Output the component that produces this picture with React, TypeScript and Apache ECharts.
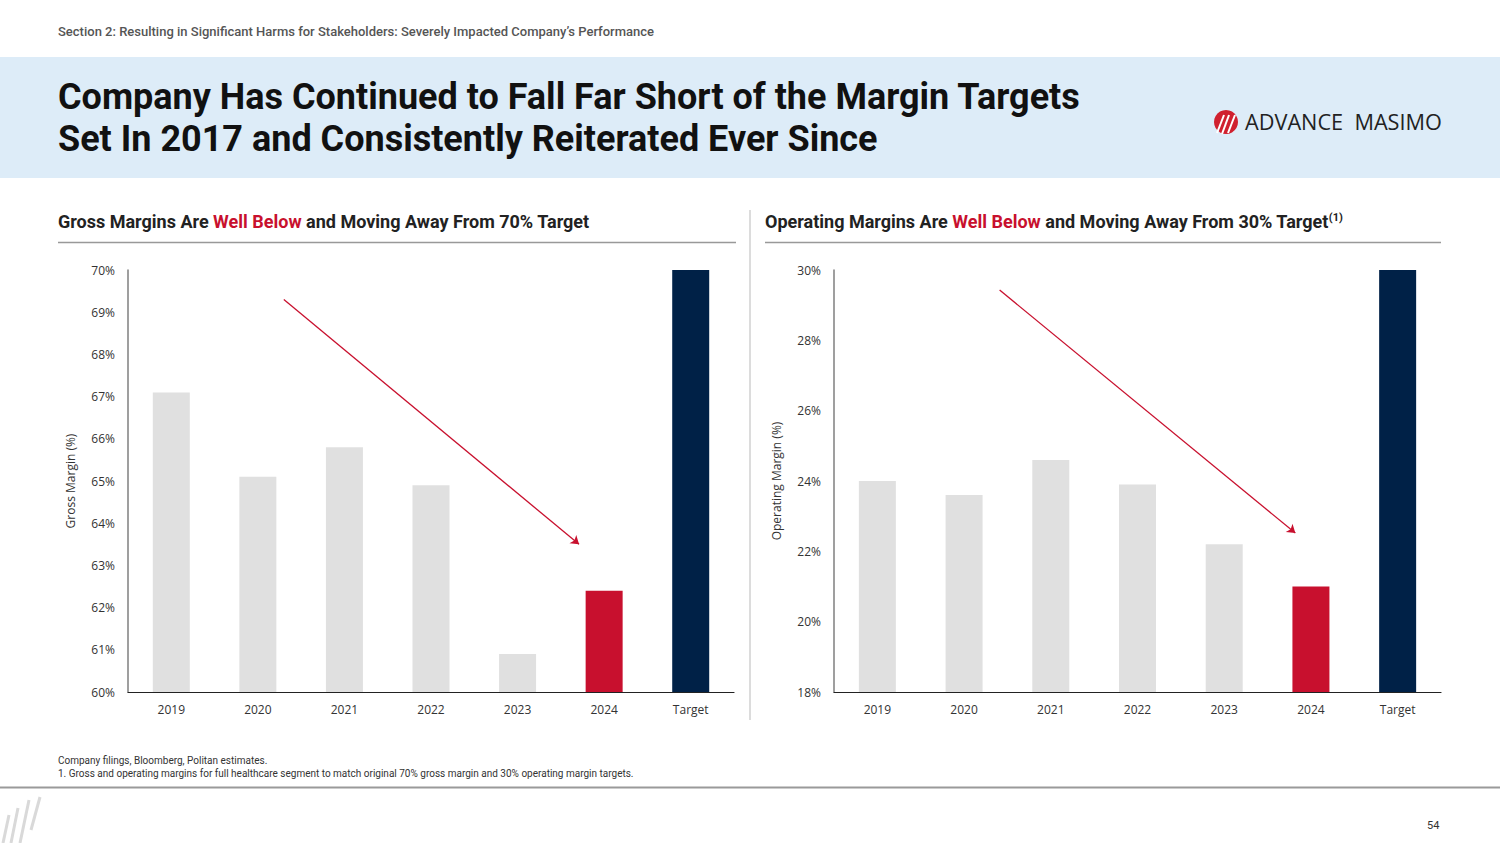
import React, { useEffect, useRef } from "react";
import * as echarts from "echarts";

const categories = ["2019", "2020", "2021", "2022", "2023", "2024", "Target"];
const grossMargins = [67.1, 65.1, 65.8, 64.9, 60.9, 62.4, 70];
const operatingMargins = [24.0, 23.6, 24.6, 23.9, 22.2, 21.0, 30];
const grossTicks = { min: 60, max: 70, interval: 1 };
const opTicks = { min: 18, max: 30, interval: 2 };
// arrow annotation endpoints in data space [category position, value]
const grossArrow = [[1.3, 69.3], [4.71, 63.5]];
const opArrow = [[1.41, 29.43], [4.82, 22.52]];

const GRAY = "#e0e0e0";
const RED = "#c8102e";
const NAVY = "#002147";
const FONT = "Roboto, 'Noto Sans', sans-serif";
const AXFONT = "'Open Sans', 'Noto Sans', sans-serif";

function barColors(vals: number[]) {
  return vals.map((v, i) => ({
    value: v,
    itemStyle: { color: i === vals.length - 1 ? NAVY : i === vals.length - 2 ? RED : GRAY },
  }));
}

export default function App() {
  const ref = useRef<HTMLDivElement>(null);
  useEffect(() => {
    document.body.style.margin = "0";
    const chart = echarts.init(ref.current!, null, { renderer: "svg" });
    const yAxisCommon = {
      type: "value",
      axisLine: { show: true, onZero: false, lineStyle: { color: "#7f7f7f", width: 1.5 } },
      axisTick: { show: false },
      splitLine: { show: false },
      axisLabel: { formatter: "{value}%", color: "#333", fontSize: 12, fontFamily: AXFONT, margin: 13 },
      nameLocation: "middle",
      nameRotate: 90,
      nameGap: 52,
      nameTextStyle: { color: "#333", fontSize: 12, fontFamily: AXFONT },
    };
    const xAxisCommon = {
      type: "category",
      data: categories,
      axisLine: { show: true, onZero: false, lineStyle: { color: "#222", width: 1.2 } },
      axisTick: { show: false },
      axisLabel: { color: "#333", fontSize: 12, fontFamily: AXFONT, margin: 11 },
    };
    const hiddenX = { type: "value", min: -0.5, max: 6.5, show: false, axisLine: { onZero: false } };
    const arrowLine = (xi: number, yi: number, pts: number[][]) => ({
      type: "line",
      xAxisIndex: xi,
      yAxisIndex: yi,
      data: [],
      silent: true,
      markLine: {
        silent: true,
        symbol: ["none", "arrow"],
        symbolSize: 8,
        label: { show: false },
        lineStyle: { color: RED, width: 1.3, type: "solid" },
        data: [[{ coord: pts[0] }, { coord: pts[1] }]],
      },
    });
    const heading = (x: number, pre: string, post: string, sup: boolean) => ({
      type: "text",
      left: x,
      top: 212,
      style: {
        text: `{b|${pre}}{r|Well Below}{b|${post}}` + (sup ? "{s|(1)}" : ""),
        rich: {
          b: { fontSize: 18, fontWeight: "bold", fill: "#222", fontFamily: FONT },
          r: { fontSize: 18, fontWeight: "bold", fill: RED, fontFamily: FONT },
          s: { fontSize: 11, fontWeight: "bold", fill: "#222", fontFamily: FONT, verticalAlign: "top", padding: [0, 0, 8, 0] },
        },
      },
    });
    const slash = (x1: number, y1: number, x2: number, y2: number) => ({
      type: "line",
      shape: { x1, y1, x2, y2 },
      style: { stroke: "#d9d9d9", lineWidth: 3 },
    });
    chart.setOption({
      animation: false,
      backgroundColor: "#ffffff",
      grid: [
        { left: 128, top: 270, width: 606, height: 422 },
        { left: 834, top: 270, width: 607, height: 422 },
      ],
      xAxis: [
        { ...xAxisCommon, gridIndex: 0 },
        { ...hiddenX, gridIndex: 0 },
        { ...xAxisCommon, gridIndex: 1 },
        { ...hiddenX, gridIndex: 1 },
      ],
      yAxis: [
        { ...yAxisCommon, gridIndex: 0, ...grossTicks, name: "Gross Margin (%)" },
        { ...yAxisCommon, gridIndex: 1, ...opTicks, name: "Operating Margin (%)" },
      ],
      series: [
        { type: "bar", xAxisIndex: 0, yAxisIndex: 0, barWidth: 37, data: barColors(grossMargins), silent: true },
        { type: "bar", xAxisIndex: 2, yAxisIndex: 1, barWidth: 37, data: barColors(operatingMargins), silent: true },
        arrowLine(1, 0, grossArrow),
        arrowLine(3, 1, opArrow),
      ],
      graphic: [
        {
          type: "text",
          left: 58,
          top: 25,
          style: {
            text: "Section 2: Resulting in Significant Harms for Stakeholders: Severely Impacted Company’s Performance",
            fontSize: 13,
            fontWeight: 500,
            fill: "#555",
            fontFamily: FONT,
          },
        },
        { type: "rect", shape: { x: 0, y: 57, width: 1500, height: 121 }, style: { fill: "#ddecf8" } },
        {
          type: "text",
          left: 58,
          top: 76,
          style: {
            text: "Company Has Continued to Fall Far Short of the Margin Targets\nSet In 2017 and Consistently Reiterated Ever Since",
            fontSize: 36,
            lineHeight: 42,
            fontWeight: "bold",
            fill: "#111",
            fontFamily: FONT,
          },
        },
        { type: "circle", shape: { cx: 1226, cy: 122, r: 12 }, style: { fill: "#d0202f" } },
        { type: "line", shape: { x1: 1217, y1: 133, x2: 1224, y2: 115 }, style: { stroke: "#fff", lineWidth: 2 } },
        { type: "line", shape: { x1: 1222, y1: 134, x2: 1229, y2: 115 }, style: { stroke: "#fff", lineWidth: 2 } },
        { type: "line", shape: { x1: 1228, y1: 133, x2: 1235, y2: 115 }, style: { stroke: "#fff", lineWidth: 2 } },
        {
          type: "text",
          left: 1245,
          top: 110,
          style: { text: "ADVANCE  MASIMO", fontSize: 21.7, fill: "#222", fontFamily: "'Open Sans', sans-serif" },
        },
        heading(58, "Gross Margins Are ", " and Moving Away From 70% Target", false),
        heading(765, "Operating Margins Are ", " and Moving Away From 30% Target", true),
        { type: "line", shape: { x1: 58, y1: 242.5, x2: 736, y2: 242.5 }, style: { stroke: "#999", lineWidth: 1.5 } },
        { type: "line", shape: { x1: 765, y1: 242.5, x2: 1441, y2: 242.5 }, style: { stroke: "#999", lineWidth: 1.5 } },
        { type: "line", shape: { x1: 750, y1: 210, x2: 750, y2: 720 }, style: { stroke: "#d0d0d0", lineWidth: 1.5 } },
        {
          type: "text",
          left: 58,
          top: 754,
          style: {
            text: "Company filings, Bloomberg, Politan estimates.\n1. Gross and operating margins for full healthcare segment to match original 70% gross margin and 30% operating margin targets.",
            fontSize: 10,
            lineHeight: 13,
            fill: "#333",
            fontFamily: FONT,
          },
        },
        { type: "line", shape: { x1: 0, y1: 787.5, x2: 1500, y2: 787.5 }, style: { stroke: "#9a9a9a", lineWidth: 2 } },
        slash(3, 843, 9, 815),
        slash(11, 843, 18, 808),
        slash(20, 843, 29, 800),
        slash(31, 830, 40, 797),
        { type: "text", left: 1427, top: 820, style: { text: "54", fontSize: 11, fill: "#333", fontFamily: FONT } },
      ],
    });
    return () => chart.dispose();
  }, []);
  return <div ref={ref} style={{ position: "absolute", left: 0, top: 0, width: 1500, height: 843 }} />;
}
